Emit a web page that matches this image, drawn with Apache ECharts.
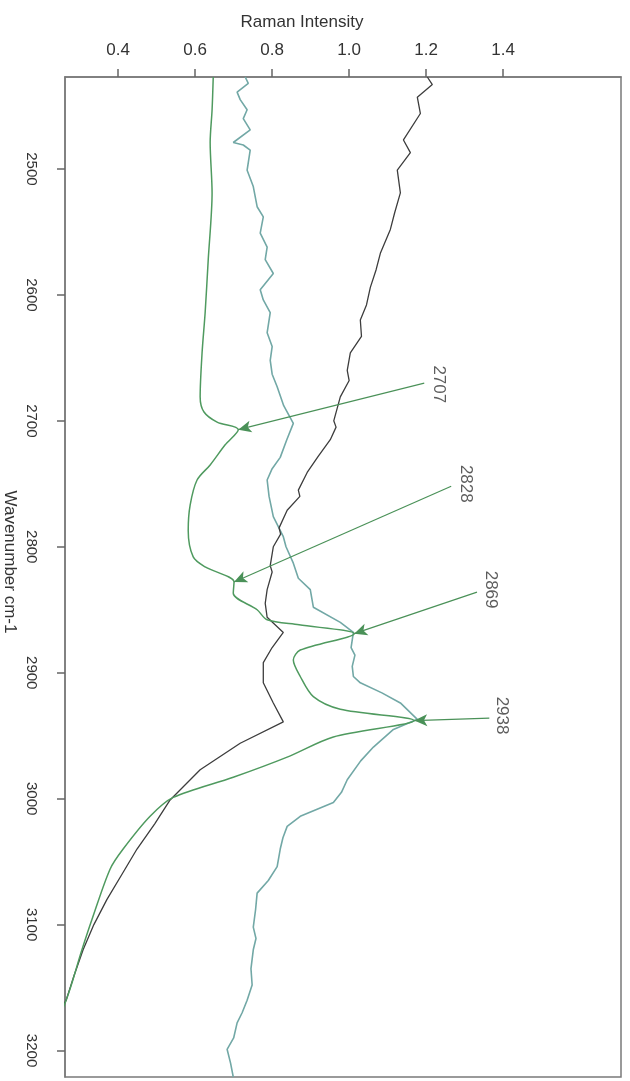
<!DOCTYPE html>
<html>
<head>
<meta charset="utf-8">
<script src="https://cdn.jsdelivr.net/npm/echarts@6/dist/echarts.min.js"></script>
<style>html,body{margin:0;padding:0;background:#fff;}#chart{width:630px;height:1081px;}</style>
</head>
<body>
<div id="chart"></div>
<script>
// Tick labels
var intensityTicks = [0.4, 0.6, 0.8, 1.0, 1.2, 1.4];
var wavenumberTicks = [2500, 2600, 2700, 2800, 2900, 3000, 3100, 3200];

// Green spectrum (annotated)
var greenWave = [2427,2453,2479,2519,2572,2614,2646,2681,2693,2701,2707,2719,2735,2747,2767,2787,2808,2816,2828,2837,2850,2858,2862,2869,2882,2890,2903,2919,2929,2938,2951,2967,2983,2999,3014,3040,3056,3096,3120,3160,3207];
var greenInt  = [0.647,0.644,0.639,0.644,0.634,0.626,0.618,0.613,0.623,0.657,0.712,0.678,0.639,0.605,0.587,0.582,0.595,0.626,0.701,0.699,0.761,0.787,0.870,1.013,0.873,0.855,0.873,0.907,0.977,1.169,0.959,0.839,0.699,0.543,0.483,0.413,0.379,0.332,0.306,0.265,0.198];

// Teal spectrum
var tealWave = [2427,2432,2439,2445,2453,2460,2469,2479,2481,2485,2501,2514,2530,2538,2551,2562,2572,2583,2596,2604,2614,2630,2641,2652,2663,2673,2688,2702,2715,2729,2738,2747,2760,2776,2792,2800,2813,2825,2834,2848,2860,2868,2880,2886,2895,2903,2908,2916,2924,2937,2945,2959,2970,2985,2995,3003,3014,3022,3031,3040,3054,3065,3075,3088,3102,3111,3120,3135,3148,3160,3170,3178,3190,3199,3210,3221];
var tealInt  = [0.730,0.738,0.709,0.717,0.735,0.725,0.743,0.699,0.725,0.743,0.735,0.751,0.761,0.777,0.769,0.787,0.782,0.803,0.769,0.777,0.795,0.787,0.800,0.795,0.800,0.813,0.830,0.855,0.838,0.821,0.800,0.787,0.792,0.803,0.829,0.836,0.855,0.868,0.899,0.907,0.977,1.011,1.005,1.015,1.008,1.011,1.029,1.085,1.133,1.177,1.115,1.063,1.030,0.995,0.980,0.959,0.873,0.839,0.828,0.821,0.813,0.790,0.761,0.757,0.751,0.758,0.751,0.745,0.748,0.735,0.722,0.709,0.700,0.683,0.692,0.699];

// Black spectrum
var blackWave = [2427,2433,2443,2456,2477,2487,2501,2519,2535,2548,2567,2580,2594,2608,2620,2633,2646,2660,2668,2681,2700,2705,2715,2728,2741,2755,2760,2771,2785,2790,2800,2815,2820,2834,2845,2856,2868,2880,2892,2908,2924,2939,2956,2977,3001,3020,3040,3060,3080,3100,3120,3140,3160,3199];
var blackInt  = [1.203,1.216,1.177,1.185,1.141,1.159,1.125,1.133,1.118,1.107,1.081,1.070,1.055,1.045,1.029,1.032,1.003,0.995,1.000,0.977,0.960,0.966,0.951,0.920,0.891,0.868,0.872,0.839,0.818,0.822,0.803,0.795,0.800,0.787,0.782,0.787,0.829,0.800,0.777,0.777,0.803,0.829,0.717,0.613,0.535,0.495,0.449,0.410,0.371,0.337,0.309,0.286,0.265,0.197];

// Peak annotations
var peakLabels   = ['2707','2828','2869','2938'];
var peakWave     = [2707, 2828, 2869, 2938];
var peakInt      = [0.712, 0.701, 1.013, 1.169];
var lineEndInt   = [1.195, 1.265, 1.332, 1.364];
var lineEndWave  = [2670, 2752, 2836, 2936];
var textInt      = [1.232, 1.302, 1.367, 1.397];
var textWave     = [2671, 2750, 2834, 2934];

function zip(w, v) { return w.map(function (x, i) { return [v[i], x]; }); }

var FONT = "'Liberation Sans', Arial, sans-serif";
var AXC = '#7a7a7a';

var markData = peakLabels.map(function (l, i) {
  return [{ coord: [lineEndInt[i], lineEndWave[i]] }, { coord: [peakInt[i], peakWave[i]] }];
});
var textData = peakLabels.map(function (l, i) { return [textInt[i], textWave[i], l]; });

var chart = echarts.init(document.getElementById('chart'));
chart.setOption({
  animation: false,
  backgroundColor: '#fff',
  grid: { left: 65, top: 77, right: 9, bottom: 4, show: true, borderColor: AXC, borderWidth: 1.5, containLabel: false },
  xAxis: {
    type: 'value', position: 'top', min: 0.262, max: 1.706,
    splitLine: { show: false },
    axisLine: { show: true, lineStyle: { color: AXC, width: 1.5 } },
    axisTick: { show: true, length: 8, lineStyle: { color: '#666', width: 1.5 }, customValues: intensityTicks },
    axisLabel: { customValues: intensityTicks, margin: 18, fontSize: 17, color: '#333', fontFamily: FONT,
      formatter: function (v) { return v.toFixed(1); } }
  },
  yAxis: {
    type: 'value', inverse: true, min: 2427, max: 3221,
    splitLine: { show: false },
    axisLine: { show: true, lineStyle: { color: AXC, width: 1.5 } },
    axisTick: { show: true, length: 8, lineStyle: { color: '#666', width: 1.5 }, customValues: wavenumberTicks },
    axisLabel: { customValues: wavenumberTicks, rotate: -90, margin: 26, fontSize: 15, color: '#333', fontFamily: FONT,
      formatter: function (v) { return String(v); } }
  },
  graphic: [
    { type: 'text', x: 302, y: 22, style: { text: 'Raman Intensity', fontSize: 17, fontFamily: FONT, fill: '#333', align: 'center', verticalAlign: 'middle' } },
    { type: 'text', x: 10, y: 562, rotation: -Math.PI / 2, style: { text: 'Wavenumber cm-1', fontSize: 17, fontFamily: FONT, fill: '#333', align: 'center', verticalAlign: 'middle' } }
  ],
  series: [
    { type: 'line', data: zip(tealWave, tealInt), symbol: 'none', lineStyle: { color: '#72a8a6', width: 1.6 }, z: 2 },
    { type: 'line', data: zip(blackWave, blackInt), symbol: 'none', lineStyle: { color: '#3d3d3d', width: 1.3 }, z: 3 },
    { type: 'line', data: zip(greenWave, greenInt), symbol: 'none', smooth: 0.3, lineStyle: { color: '#4f9a5f', width: 1.5 }, z: 4,
      markLine: {
        silent: true, symbol: ['none', 'arrow'], symbolSize: [9, 13],
        label: { show: false },
        lineStyle: { color: '#4a9158', width: 1.2, type: 'solid' },
        itemStyle: { color: '#2f7a3d' },
        data: markData
      }
    },
    { type: 'scatter', data: textData, symbolSize: 0, z: 5,
      label: { show: true, position: 'inside', rotate: -90, fontSize: 17, fontFamily: FONT, color: '#333',
        formatter: function (p) { return p.data[2]; } } }
  ]
});
</script>
</body>
</html>
